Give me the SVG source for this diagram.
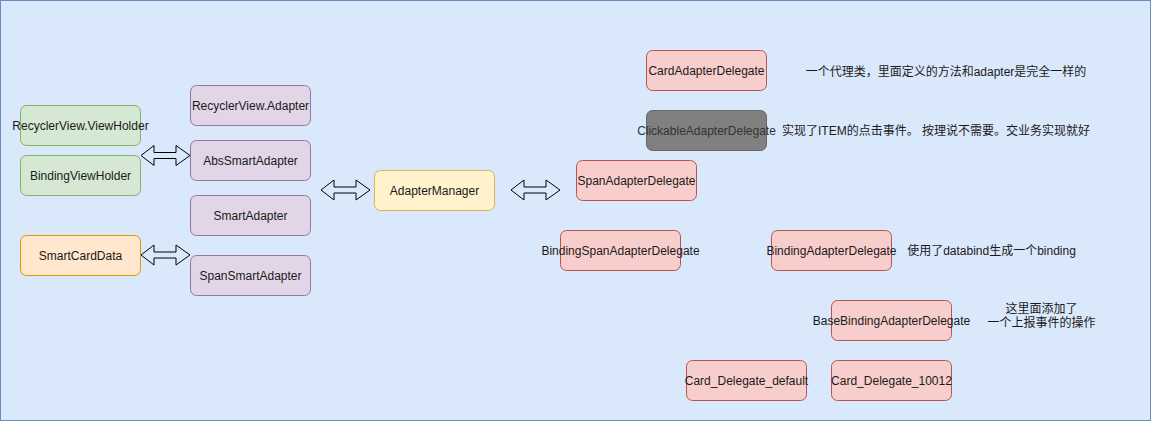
<svg xmlns="http://www.w3.org/2000/svg" width="1151" height="421" viewBox="0 0 1151 421">
<defs>
<style>
.n rect{stroke-width:1}
.t{font-family:"Liberation Sans",Arial,"Noto Sans CJK SC",sans-serif;font-size:12px;fill:#1a1a1a;text-anchor:middle;dominant-baseline:central}
.g rect{fill:#d5e8d4;stroke:#82b366}
.p rect{fill:#e1d5e7;stroke:#9673a6}
.o rect{fill:#ffe6cc;stroke:#d79b00}
.y rect{fill:#fff2cc;stroke:#d6b656}
.r rect{fill:#f8cecc;stroke:#b85450}
.k rect{fill:#808080;stroke:#666666}
.a{fill:#ffffff;fill-opacity:0;stroke:#000000;stroke-width:1;stroke-linejoin:miter}
</style>
</defs>
<rect x="0.5" y="0.5" width="1150" height="420" fill="#dae8fc" stroke="#6c8ebf"/>
<g id="connectors">
<path class="a" d="M141,155.5 L154,145.5 L154,152.5 L176,152.5 L176,145.5 L190,155.5 L176,165.5 L176,158.5 L154,158.5 L154,165.5 Z"/>
<path class="a" d="M141,255 L154,245 L154,252 L176,252 L176,245 L190,255 L176,265 L176,258 L154,258 L154,265 Z"/>
<path class="a" d="M321,190 L334,180 L334,187 L356,187 L356,180 L370,190 L356,200 L356,193 L334,193 L334,200 Z"/>
<path class="a" d="M511,190 L524,180 L524,187 L546,187 L546,180 L560,190 L546,200 L546,193 L524,193 L524,200 Z"/>
</g>
<g id="RecyclerViewViewHolder" class="n g"><rect x="20.5" y="105.5" width="120" height="40" rx="6"/><text class="t" x="80.5" y="125.5">RecyclerView.ViewHolder</text></g>
<g id="BindingViewHolder" class="n g"><rect x="20.5" y="155.5" width="120" height="40" rx="6"/><text class="t" x="80.5" y="175.5">BindingViewHolder</text></g>
<g id="SmartCardData" class="n o"><rect x="20.5" y="235.5" width="120" height="40" rx="6"/><text class="t" x="80.5" y="255.5">SmartCardData</text></g>
<g id="RecyclerViewAdapter" class="n p"><rect x="190.5" y="85.5" width="120" height="40" rx="6"/><text class="t" x="250.5" y="105.5">RecyclerView.Adapter</text></g>
<g id="AbsSmartAdapter" class="n p"><rect x="190.5" y="140.5" width="120" height="40" rx="6"/><text class="t" x="250.5" y="160.5">AbsSmartAdapter</text></g>
<g id="SmartAdapter" class="n p"><rect x="190.5" y="195.5" width="120" height="40" rx="6"/><text class="t" x="250.5" y="215.5">SmartAdapter</text></g>
<g id="SpanSmartAdapter" class="n p"><rect x="190.5" y="255.5" width="120" height="40" rx="6"/><text class="t" x="250.5" y="275.5">SpanSmartAdapter</text></g>
<g id="AdapterManager" class="n y"><rect x="374.5" y="170.5" width="120" height="40" rx="6"/><text class="t" x="434.5" y="190.5">AdapterManager</text></g>
<g id="SpanAdapterDelegate" class="n r"><rect x="576.5" y="160.5" width="120" height="40" rx="6"/><text class="t" x="636.5" y="180.5">SpanAdapterDelegate</text></g>
<g id="BindingSpanAdapterDelegate" class="n r"><rect x="560.5" y="230.5" width="120" height="40" rx="6"/><text class="t" x="620.5" y="250.5">BindingSpanAdapterDelegate</text></g>
<g id="CardAdapterDelegate" class="n r"><rect x="646.5" y="50.5" width="120" height="40" rx="6"/><text class="t" x="706.5" y="70.5">CardAdapterDelegate</text></g>
<g id="ClickableAdapterDelegate" class="n k"><rect x="646.5" y="110.5" width="120" height="40" rx="6"/><text class="t" x="706.5" y="130.5" style="fill:#333333">ClickableAdapterDelegate</text></g>
<g id="BindingAdapterDelegate" class="n r"><rect x="771.5" y="230.5" width="120" height="40" rx="6"/><text class="t" x="831.5" y="250.5">BindingAdapterDelegate</text></g>
<g id="BaseBindingAdapterDelegate" class="n r"><rect x="831.5" y="300.5" width="120" height="40" rx="6"/><text class="t" x="891.5" y="320.5">BaseBindingAdapterDelegate</text></g>
<g id="CardDelegateDefault" class="n r"><rect x="686.5" y="360.5" width="120" height="40" rx="6"/><text class="t" x="746.5" y="380.5">Card_Delegate_default</text></g>
<g id="CardDelegate10012" class="n r"><rect x="831.5" y="360.5" width="120" height="40" rx="6"/><text class="t" x="891.5" y="380.5">Card_Delegate_10012</text></g>
<g id="note1"><text class="t" x="946" y="71.5">一个代理类，里面定义的方法和adapter是完全一样的</text></g>
<g id="note2"><text class="t" x="936" y="130.5">实现了ITEM的点击事件。 按理说不需要。交业务实现就好</text></g>
<g id="note3"><text class="t" x="991.5" y="250.5">使用了databind生成一个binding</text></g>
<g id="note4"><text class="t" x="1041.5" y="309">这里面添加了</text><text class="t" x="1041.5" y="323">一个上报事件的操作</text></g>
</svg>
